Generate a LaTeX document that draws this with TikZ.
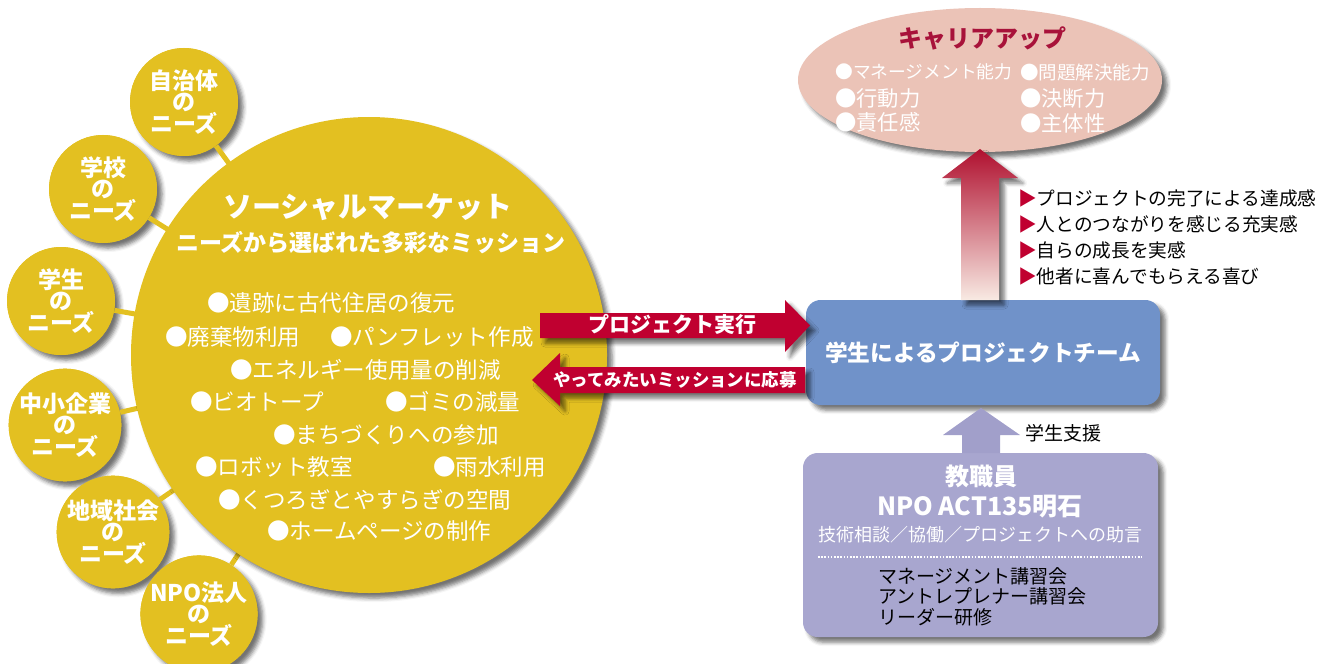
\documentclass[tikz,border=0pt]{standalone}
\usepackage{fontspec}
\setmainfont{Noto Sans CJK JP}
\usetikzlibrary{shadows,shadows.blur,shapes.geometric}
\definecolor{yel}{HTML}{E3C021}
\definecolor{crim}{HTML}{C00030}
\definecolor{blueb}{HTML}{7092C9}
\definecolor{purp}{HTML}{A8A6CF}
\definecolor{purparrow}{HTML}{A19FCA}
\definecolor{pinkel}{HTML}{EBC3B7}
\definecolor{titlered}{HTML}{A8123A}
\definecolor{arrowtop}{HTML}{B0102F}
\definecolor{arrowbot}{HTML}{F8EAE3}
\tikzset{
 shad/.style={blur shadow={shadow xshift=3.8pt,shadow yshift=-3.8pt,shadow blur radius=3pt,shadow opacity=55}},
 need/.style={circle,fill=yel,minimum size=81pt,inner sep=0pt,shad,text=white,align=center,
   font=\bfseries\fontsize{17.25pt}{15.75pt}\selectfont},
 needtext/.style={circle,fill=yel,minimum size=81pt,inner sep=0pt,text=white,align=center,
   font=\bfseries\fontsize{17.25pt}{15.75pt}\selectfont},
 conn/.style={draw=yel,line width=3.75pt},
 item/.style={anchor=west,inner sep=0pt,text=white,font=\fontsize{16.9pt}{18pt}\selectfont},
 citem/.style={anchor=west,inner sep=0pt,text=white,font=\fontsize{16pt}{18pt}\selectfont},
 ritem/.style={anchor=west,inner sep=0pt,text=black,font=\fontsize{14pt}{16pt}\selectfont},
 arrtext/.style={inner sep=0pt,text=white,font=\bfseries\fontsize{15.75pt}{17pt}\selectfont},
}
\begin{document}
\begin{tikzpicture}[x=0.75pt,y=-0.75pt]
\useasboundingbox (0,0) rectangle (1333,663);
% main circle position and needs
\coordinate (mc) at (369,355);
\node[need] (n1) at (184,102) {自治体\\の\\ニーズ};
\node[need] (n2) at (103,189) {学校\\の\\ニーズ};
\node[need] (n3) at (61,301) {学生\\の\\ニーズ};
\node[need] (n4) at (65,425) {中小企業\\の\\ニーズ};
\node[need] (n5) at (113,532) {地域社会\\の\\ニーズ};
\node[need] (n6) at (199,614) {NPO法人\\の\\ニーズ};
\foreach \n in {n1,n2,n3,n4,n5,n6} {\draw[conn] (\n) -- (mc);}
\node[circle,fill=yel,minimum size=357pt,inner sep=0pt,shad] (main) at (mc) {};
% redraw need texts on top of connectors
\node[needtext] at (n1) {自治体\\の\\ニーズ};
\node[needtext] at (n2) {学校\\の\\ニーズ};
\node[needtext] at (n3) {学生\\の\\ニーズ};
\node[needtext] at (n4) {中小企業\\の\\ニーズ};
\node[needtext] at (n5) {地域社会\\の\\ニーズ};
\node[needtext] at (n6) {NPO法人\\の\\ニーズ};
% titles
\node[inner sep=0pt,text=white,font=\bfseries\fontsize{21.75pt}{24pt}\selectfont] (title) at (368,207) {ソーシャルマーケット};
\node[inner sep=0pt,text=white,font=\bfseries\fontsize{17.25pt}{19pt}\selectfont] (subtitle) at (371,243) {ニーズから選ばれた多彩なミッション};
% items
\node[item] (m1) at (207,303) {●遺跡に古代住居の復元};
\node[item] (m2) at (165,337) {●廃棄物利用};
\node[item] (m3) at (330,337) {●パンフレット作成};
\node[item] (m4) at (230,370) {●エネルギー使用量の削減};
\node[item] (m5) at (190,402) {●ビオトープ};
\node[item] (m6) at (385,402) {●ゴミの減量};
\node[item] (m7) at (273,435) {●まちづくりへの参加};
\node[item] (m8) at (195,467) {●ロボット教室};
\node[item] (m9) at (433,467) {●雨水利用};
\node[item] (m10) at (218,500) {●くつろぎとやすらぎの空間};
\node[item] (m11) at (267,531) {●ホームページの制作};
% career ellipse
\node[ellipse,fill=pinkel,minimum width=273pt,minimum height=108pt,inner sep=0pt,shad] (career) at (980,80) {};
\node[inner sep=0pt,text=titlered,font=\bfseries\fontsize{18pt}{20pt}\selectfont] (ctitle) at (982,38) {キャリアアップ};
\node[citem,font=\fontsize{13.3pt}{16pt}\selectfont] (c1) at (835,72) {●マネージメント能力};
\node[citem] (c2) at (835,98) {●行動力};
\node[citem] (c3) at (835,122) {●責任感};
\node[citem,font=\fontsize{13.9pt}{16pt}\selectfont] (c4) at (1020,72) {●問題解決能力};
\node[citem] (c5) at (1020,99) {●決断力};
\node[citem] (c6) at (1020,123) {●主体性};
% team box
\node[rounded corners=11pt,fill=blueb,minimum width=265.5pt,minimum height=78.75pt,inner sep=0pt,shad,
  text=white,font=\bfseries\fontsize{17pt}{19pt}\selectfont] (team) at (983,352.5) {学生によるプロジェクトチーム};
% staff box
\node[rounded corners=11pt,fill=purp,minimum width=266.25pt,minimum height=138pt,inner sep=0pt,shad] (staff) at (980.5,545) {};
\node[inner sep=0pt,text=white,font=\bfseries\fontsize{18pt}{20pt}\selectfont] (s1) at (981,476) {教職員};
\node[inner sep=0pt,text=white,font=\bfseries\fontsize{18.75pt}{20pt}\selectfont] (s2) at (980,507) {NPO ACT135明石};
\node[inner sep=0pt,text=white,font=\fontsize{13.5pt}{15pt}\selectfont] (s3) at (980,535) {技術相談／協働／プロジェクトへの助言};
\coordinate (dl) at (818,557);
\coordinate (dr) at (1142,557);
\draw[white,line width=1.5pt,dash pattern=on 1.2pt off 1.2pt] (dl) -- (dr);
\node[anchor=north west,inner sep=0pt,align=left,text=black,font=\fontsize{14.25pt}{15.4pt}\selectfont] (s4) at (878,567) {マネージメント講習会\\アントレプレナー講習会\\リーダー研修};
% support arrow
\fill[purparrow] (962,453) -- (962,435) -- (943,435) -- (981,408) -- (1020,435) -- (1000,435) -- (1000,453) -- cycle;
\node[inner sep=0pt,text=black,font=\fontsize{14.25pt}{16pt}\selectfont] (support) at (1063,433) {学生支援};
% big gradient arrow
\shade[top color=arrowtop,bottom color=arrowbot,shad] (961,300) -- (961,178) -- (942,178) -- (980,149) -- (1018,178) -- (999,178) -- (999,300) -- cycle;
% reasons
\node[ritem] (r1) at (1018,198) {\textcolor{crim}{▶}プロジェクトの完了による達成感};
\node[ritem] (r2) at (1018,224) {\textcolor{crim}{▶}人とのつながりを感じる充実感};
\node[ritem] (r3) at (1018,250) {\textcolor{crim}{▶}自らの成長を実感};
\node[ritem] (r4) at (1018,276) {\textcolor{crim}{▶}他者に喜んでもらえる喜び};
% red arrows
\fill[crim,shad] (540,313) -- (785,313) -- (785,300) -- (810,325.5) -- (785,352) -- (785,338) -- (540,338) -- cycle;
\node[arrtext] (a1) at (672,324) {プロジェクト実行};
\fill[crim,shad] (805,367) -- (560,367) -- (560,353) -- (532,380) -- (560,406) -- (560,393) -- (805,393) -- cycle;
\node[arrtext,font=\bfseries\fontsize{13.1pt}{15pt}\selectfont] (a2) at (675,380) {やってみたいミッションに応募};
\end{tikzpicture}
\end{document}
